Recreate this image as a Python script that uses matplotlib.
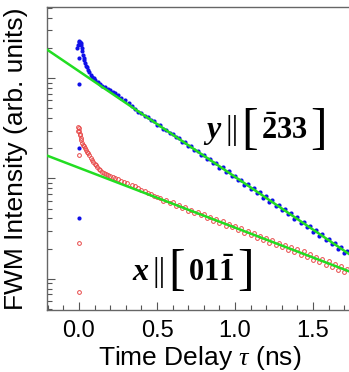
import numpy as np
import matplotlib
matplotlib.use('Agg')
from matplotlib import pyplot as plt
from matplotlib.ticker import LogLocator, NullFormatter, MultipleLocator, FormatStrFormatter
from matplotlib.offsetbox import TextArea, HPacker, AnnotationBbox

plt.rcParams['font.family'] = ['Liberation Sans', 'DejaVu Sans']
plt.rcParams['mathtext.fontset'] = 'custom'
plt.rcParams['mathtext.rm'] = 'Liberation Serif:bold'
plt.rcParams['mathtext.it'] = 'Liberation Serif:italic'
plt.rcParams['mathtext.bf'] = 'Liberation Serif:bold'
try:
    plt.rcParams['mathtext.bfit'] = 'Liberation Serif:italic:bold'
    bfit = True
except KeyError:
    bfit = False

# blue data, y || [-233]
blue_t = [0.0, 0.0, 0.0, -0.003,
          -0.01, -0.005, 0.0, 0.003, 0.006, 0.01, 0.014, 0.018, 0.022, 0.026,
          0.03, 0.035, 0.04, 0.045, 0.05, 0.058, 0.066, 0.075, 0.085, 0.095,
          0.105, 0.12, 0.135, 0.15, 0.167, 0.185, 0.20, 0.215, 0.23, 0.25,
          0.27, 0.295, 0.32, 0.34,
          0.36, 0.38, 0.40, 0.42, 0.44, 0.46, 0.48, 0.50, 0.52, 0.54,
          0.56, 0.58, 0.60, 0.62, 0.64, 0.66, 0.68, 0.70, 0.72, 0.74,
          0.76, 0.78, 0.80, 0.82, 0.84, 0.86, 0.88, 0.90, 0.92, 0.94,
          0.96, 0.98, 1.00, 1.02, 1.04, 1.06, 1.08, 1.10, 1.12, 1.14,
          1.16, 1.18, 1.20, 1.22, 1.24, 1.26, 1.28, 1.30, 1.32, 1.34,
          1.36, 1.38, 1.40, 1.42, 1.44, 1.46, 1.48, 1.50, 1.52, 1.54,
          1.56, 1.58, 1.60, 1.62, 1.64, 1.66, 1.68, 1.70, 1.72, 1.74]
blue_v = [87, 20.1, 4.05, 158,
          200, 215, 228, 232, 226, 222, 212, 200, 185, 169,
          160, 150, 141, 133, 128, 120, 114, 108, 103, 99,
          96, 91, 87, 84, 81, 78, 75.5, 73, 71, 67.5,
          64, 60.5, 56.5, 53,
          49.5, 46.0, 45.0, 42.0, 40.9, 37.8, 37.2, 34.3, 33.9, 31.0,
          30.6, 28.2, 27.9, 25.6, 25.4, 23.1, 22.9, 21.0, 20.9, 19.0,
          18.9, 17.2, 17.1, 15.6, 15.6, 14.1, 14.2, 12.8, 12.9, 11.6,
          11.8, 10.5, 10.7, 9.6, 9.75, 8.7, 8.85, 7.9, 8.05, 7.15,
          7.3, 6.45, 6.65, 5.85, 6.05, 5.3, 5.5, 4.85, 4.95, 4.4,
          4.52, 3.98, 4.1, 3.6, 3.72, 3.27, 3.38, 2.96, 3.07, 2.68,
          2.79, 2.45, 2.52, 2.2, 2.3, 2.0, 2.08, 1.82, 1.88, 1.65]

# red data, x || [01-1]
red_t = [0.0, 0.0, 0.0,
         -0.008, -0.004, 0.0, 0.002, 0.004, 0.006, 0.01, 0.014, 0.019, 0.025,
         0.03, 0.038, 0.045, 0.052, 0.058, 0.066, 0.075, 0.083, 0.09, 0.10,
         0.108, 0.115, 0.125, 0.135, 0.147, 0.16, 0.173, 0.186, 0.20, 0.215,
         0.23, 0.25, 0.27, 0.29, 0.31, 0.34, 0.36, 0.38, 0.40, 0.42,
         0.44, 0.46, 0.48, 0.50,
         0.52, 0.54, 0.56, 0.58, 0.60, 0.62, 0.64, 0.66, 0.68, 0.70,
         0.72, 0.74, 0.76, 0.78, 0.80, 0.82, 0.84, 0.86, 0.88, 0.90,
         0.92, 0.94, 0.96, 0.98, 1.00, 1.02, 1.04, 1.06, 1.08, 1.10,
         1.12, 1.14, 1.16, 1.18, 1.20, 1.22, 1.24, 1.26, 1.28, 1.30,
         1.32, 1.34, 1.36, 1.38, 1.40, 1.42, 1.44, 1.46, 1.48, 1.50,
         1.52, 1.54, 1.56, 1.58, 1.60, 1.62, 1.64, 1.66, 1.68, 1.70,
         1.72, 1.74]
red_v = [17.1, 2.28, 0.743,
         30, 32.5, 31.5, 29.5, 28, 27, 25.5, 24, 22.6, 21.6,
         21, 20.1, 19.2, 18.5, 17.9, 17, 16.1, 15.3, 14.6, 14.0,
         13.5, 13.0, 12.5, 12.1, 11.6, 11.3, 11.0, 10.8, 10.5, 10.25,
         10.0, 9.86, 9.5, 9.3, 9.0, 8.6, 8.35, 8.05, 7.75, 7.5,
         7.2, 6.95, 6.75, 6.55,
         6.45, 6.0, 6.1, 5.7, 5.8, 5.35, 5.5, 5.05, 5.2, 4.78,
         4.9, 4.5, 4.65, 4.3, 4.4, 4.02, 4.15, 3.8, 3.95, 3.62,
         3.75, 3.4, 3.52, 3.25, 3.35, 3.05, 3.18, 2.88, 2.98, 2.72,
         2.85, 2.58, 2.7, 2.44, 2.56, 2.3, 2.42, 2.18, 2.3, 2.06,
         2.17, 1.94, 2.08, 1.84, 1.97, 1.74, 1.88, 1.64, 1.77, 1.55,
         1.66, 1.46, 1.58, 1.36, 1.49, 1.30, 1.40, 1.22, 1.33, 1.17,
         1.24, 1.10]

# single exponential fits (end points)
fit_t = [-0.205, 1.752]
blue_fit = [192, 1.68]
red_fit = [16.9, 1.155]

fig = plt.figure(figsize=(3.49, 3.72), dpi=100)
ax = fig.add_axes([0.1347, 0.1667, 0.875, 0.8145])

ax.plot(blue_t, blue_v, 'o', color='#1010e8', ms=3.0, mec='none', zorder=2)
ax.plot(red_t, red_v, 'o', mfc='none', mec='#e84848', ms=2.7, mew=0.7, zorder=2)
ax.plot(fit_t, blue_fit, '-', color='#22dd22', lw=1.8, zorder=3)
ax.plot(fit_t, red_fit, '-', color='#22dd22', lw=1.8, zorder=3)

ax.set_yscale('log')
ax.set_xlim(-0.205, 1.752)
ax.set_ylim(0.49, 510)

ax.xaxis.set_major_locator(MultipleLocator(0.5))
ax.xaxis.set_minor_locator(MultipleLocator(0.1))
ax.xaxis.set_major_formatter(FormatStrFormatter('%.1f'))
ax.yaxis.set_major_locator(LogLocator(base=10))
ax.yaxis.set_minor_locator(LogLocator(base=10, subs=np.arange(2, 10)))
ax.yaxis.set_major_formatter(NullFormatter())
ax.yaxis.set_minor_formatter(NullFormatter())

ax.tick_params(which='both', direction='in', color='#555555', width=0.8,
               labelsize=17, pad=7.5)
ax.tick_params(which='major', length=5.8)
ax.tick_params(which='minor', length=3.6)
for s in ax.spines.values():
    s.set_color('#666666')
    s.set_linewidth(1.0)
ax.spines['right'].set_visible(False)

ax.set_xlabel('Time Delay $\\tau$ (ns)', fontsize=19, labelpad=1.2)
ax.set_ylabel('FWM Intensity (arb. units)', fontsize=19, labelpad=6)


def direction_label(letter, index, x, y):
    serif = {'family': 'Liberation Serif', 'size': 24}
    bracket = {'family': 'Liberation Serif', 'size': 36, 'weight': 'normal'}
    if bfit:
        first = TextArea(r'$\mathbfit{%s}$' % letter, textprops={'size': 23})
    else:
        first = TextArea(letter, textprops=dict(serif, weight='bold', style='italic'))
    parts = [first,
             TextArea('||', textprops=dict(serif, weight='normal')),
             TextArea('[', textprops=bracket),
             TextArea(index, textprops={'size': 22}),
             TextArea(']', textprops=bracket)]
    box = HPacker(children=parts, align='center', pad=0, sep=2)
    ab = AnnotationBbox(box, (x, y), xycoords='data', frameon=False,
                        box_alignment=(0.5, 0.5), pad=0)
    ax.add_artist(ab)


direction_label('y', r'$\bar{2}33$', 1.19, 30)
direction_label('x', r'$01\bar{1}$', 0.73, 1.17)

fig.savefig('out.png', dpi=100)
